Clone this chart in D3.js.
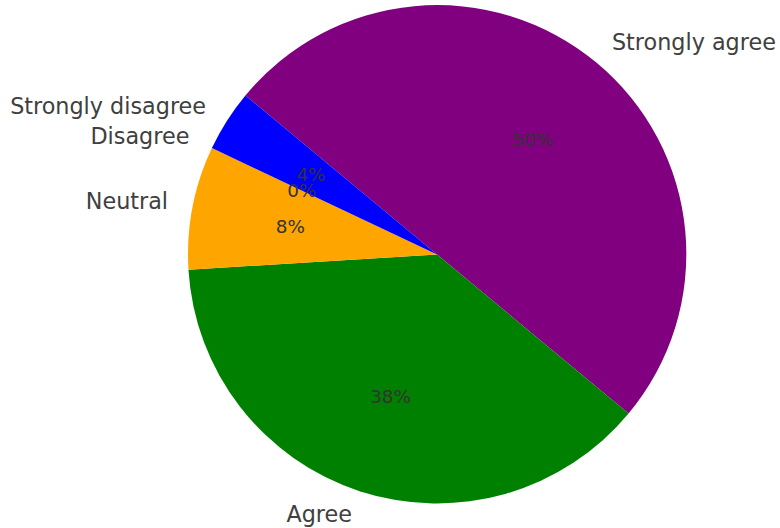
<!DOCTYPE html>
<html>
<head>
<meta charset="utf-8">
<script src="https://cdn.jsdelivr.net/npm/d3@7"></script>
<style>
  html, body { margin: 0; padding: 0; background: #ffffff; }
  svg { display: block; }
</style>
</head>
<body>
<svg id="chart" width="780" height="528"></svg>
<script>
// Survey responses (percent of respondents)
const categories = ["Strongly agree", "Agree", "Neutral", "Disagree", "Strongly disagree"];
const values = [50, 38, 8, 0, 4];
const colors = ["#800080", "#008000", "#ffa500", "#ff0000", "#0000ff"];

const width = 780, height = 528;
const cx = 437, cy = 254.5, radius = 249;
// First wedge begins at 140.3° (counter-clockwise from 3 o'clock) and runs clockwise
const startDeg = 90 - 140.3;
const startAngle = startDeg * Math.PI / 180;

const svg = d3.select("#chart");
const g = svg.append("g").attr("transform", `translate(${cx},${cy})`);

const data = categories.map((c, i) => ({ label: c, value: values[i], color: colors[i] }));
const total = d3.sum(values);

const pie = d3.pie()
  .value(d => d.value)
  .sort(null)
  .startAngle(startAngle)
  .endAngle(startAngle + 2 * Math.PI);

const arcs = pie(data);

const arc = d3.arc().innerRadius(0).outerRadius(radius);

g.selectAll("path.wedge")
  .data(arcs)
  .join("path")
  .attr("class", "wedge")
  .attr("d", arc)
  .attr("fill", d => d.data.color);

// Point at a given fraction of the radius along the middle of a wedge
function along(d, frac) {
  const a = (d.startAngle + d.endAngle) / 2;
  return [Math.sin(a) * radius * frac, -Math.cos(a) * radius * frac];
}

// Category labels outside the pie
g.selectAll("text.label")
  .data(arcs)
  .join("text")
  .attr("class", "label")
  .attr("x", d => along(d, 1.1)[0])
  .attr("y", d => along(d, 1.1)[1])
  .attr("dy", "0.3em")
  .attr("text-anchor", d => along(d, 1.1)[0] >= 0 ? "start" : "end")
  .attr("font-family", "DejaVu Sans, sans-serif")
  .attr("font-size", 22.3)
  .attr("fill", "#404040")
  .text(d => d.data.label);

// Percentage labels inside the wedges
g.selectAll("text.pct")
  .data(arcs)
  .join("text")
  .attr("class", "pct")
  .attr("x", d => along(d, 0.6)[0])
  .attr("y", d => along(d, 0.6)[1])
  .attr("dy", "0.35em")
  .attr("text-anchor", "middle")
  .attr("font-family", "DejaVu Sans, sans-serif")
  .attr("font-size", 18.4)
  .attr("fill", "#333333")
  .text(d => `${Math.round(d.data.value / total * 100)}%`);
</script>
</body>
</html>
